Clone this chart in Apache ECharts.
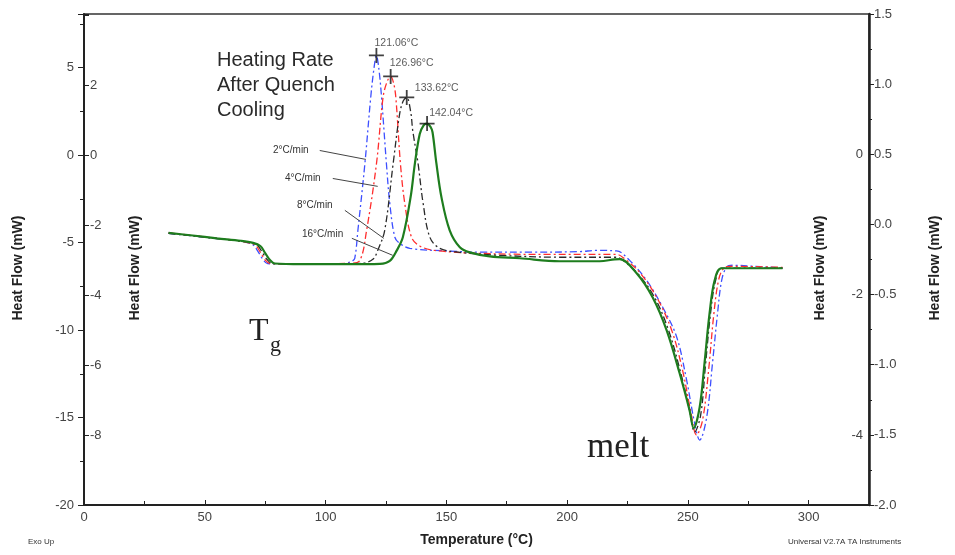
<!DOCTYPE html>
<html>
<head>
<meta charset="utf-8">
<script src="https://cdn.jsdelivr.net/npm/echarts@6/dist/echarts.min.js"></script>
<style>
html,body{margin:0;padding:0;background:#fff;}
#chart{width:955px;height:555px;}
</style>
</head>
<body>
<div id="chart"></div>
<script>
// ---- data (temperature °C, heat flow mW on the outer left scale) ----
var rate2 = [[35,-4.47],[45,-4.62],[55,-4.77],[64,-4.9],[68,-5.02],[70,-5.13],[72,-5.5],[74,-5.95],[76,-6.2],[80,-6.22],[90,-6.22],[100,-6.21],[108,-6.19],[110.9,-6.07],[112.1,-5.9],[113.4,-4.30],[116.3,-0.48],[118.7,3.29],[120,4.9],[121.06,5.69],[122.1,4.9],[123.2,3.29],[125.2,-0.48],[126.6,-2.76],[128.7,-4.70],[130.7,-5.05],[134.9,-5.33],[150.2,-5.48],[163.8,-5.55],[185,-5.55],[205.2,-5.52],[212.2,-5.45],[220.5,-5.48],[225.9,-6.02],[232.9,-7.16],[239.6,-8.70],[245.4,-10.41],[249.5,-12.87],[252.8,-15.32],[254.9,-16.29],[257.8,-14.98],[260.2,-11.90],[262.3,-9.04],[264.0,-7.16],[266.0,-6.42],[268.5,-6.30],[280,-6.38],[289.2,-6.45]];
var rate4 = [[35,-4.45],[45,-4.6],[55,-4.76],[64,-4.9],[69,-5.04],[71,-5.15],[73,-5.55],[75,-6.0],[77,-6.2],[85,-6.22],[100,-6.21],[110,-6.19],[114.2,-6.02],[117,-4.30],[121.1,-0.48],[123.8,3.29],[125.5,4.2],[126.96,4.49],[128.2,4.1],[129.1,3.29],[131.0,-0.48],[132.8,-2.76],[135.6,-4.70],[139,-5.20],[145.2,-5.45],[163.8,-5.62],[192.8,-5.68],[220.5,-5.68],[224,-5.95],[230,-6.70],[237.1,-8.13],[243.3,-10.01],[247.8,-12.29],[251.1,-14.58],[253.6,-16.0],[256.1,-15.15],[258.6,-12.29],[260.7,-9.16],[262.7,-7.16],[264.8,-6.47],[267.3,-6.36],[289.2,-6.42]];
var rate8 = [[35,-4.47],[45,-4.62],[55,-4.77],[65,-4.92],[70,-5.05],[72,-5.18],[74,-5.6],[76,-6.0],[78,-6.2],[90,-6.22],[105,-6.21],[115,-6.19],[119.6,-5.96],[121.6,-5.45],[124.5,-4.30],[128.0,-0.48],[130.7,2.37],[132.2,3.1],[133.62,3.29],[135.3,2.43],[136.1,1.40],[138.3,-0.48],[140.4,-2.76],[143.2,-4.70],[147.3,-5.33],[155.6,-5.56],[172.1,-5.73],[196.9,-5.84],[220.5,-5.84],[222.6,-5.96],[229.2,-6.76],[236.2,-8.13],[242,-10.01],[247,-12.41],[250.7,-14.58],[252.8,-15.83],[255.3,-14.86],[257.3,-12.01],[259.4,-9.04],[261.5,-7.16],[264,-6.47],[289.2,-6.47]];
var rate16 = [[35,-4.45],[45,-4.6],[55,-4.76],[65,-4.9],[70,-5.02],[73,-5.2],[75,-5.6],[77,-6.0],[79,-6.2],[90,-6.24],[110,-6.24],[122.5,-6.22],[126.6,-6.05],[129.5,-5.45],[132,-4.70],[135.2,-2.42],[137,-0.48],[139,1.20],[140.6,1.7],[142.04,1.80],[143.5,1.6],[144.3,1.30],[145.9,-0.48],[148,-2.42],[151.4,-4.30],[155.6,-5.27],[159.7,-5.56],[168,-5.79],[180.4,-5.9],[196.9,-6.07],[213.5,-6.07],[219.7,-5.96],[221.8,-5.95],[228.8,-6.76],[235.4,-8.13],[241.2,-10.01],[246.6,-12.47],[250.7,-14.58],[252.4,-15.61],[254.9,-14.41],[256.9,-11.90],[259,-9.04],[261.1,-7.16],[264,-6.47],[289.2,-6.47]];
var peakTemps = [121.06, 126.96, 133.62, 142.04];
var peakFlows = [5.69, 4.49, 3.29, 1.80];
var peakLabels = ['121.06°C', '126.96°C', '133.62°C', '142.04°C'];
var rateNames = ['2°C/min', '4°C/min', '8°C/min', '16°C/min'];
// arrows: [from, to] in data units
var arrows = [[[97.6,0.26],[116.7,-0.25]], [[103.0,-1.34],[121.6,-1.79]], [[108.0,-3.16],[124.1,-4.76]], [[110.9,-4.76],[127.8,-5.73]]];
var xTicks = [0, 50, 100, 150, 200, 250, 300];

var chart = echarts.init(document.getElementById('chart'));
var labelFont = 'Liberation Sans, Arial, sans-serif';
var axisCol = '#222';
var lblCol = '#444';
var plus = 'path://M4.4,0 h1.2 v4.4 h4.4 v1.2 h-4.4 v4.4 h-1.2 v-4.4 h-4.4 v-1.2 h4.4 z';
var offs = [[20,-12],[21,-13],[30,-9],[24,-10]];

var peakData = peakTemps.map(function(t, i){
  return {value:[t, peakFlows[i]], label:{show:true, formatter:peakLabels[i], position:'inside', offset:offs[i], color:'#333', fontSize:10.5, fontFamily:labelFont}};
});

var dashDot = [7,3,2,3];
function lineSeries(name, data, color, width, type) {
  return {
    type:'line', name:name, data:data, xAxisIndex:0, yAxisIndex:0,
    showSymbol:false, smooth:0.35,
    lineStyle:{color:color, width:width, type:type},
    z: 3
  };
}

var option = {
  animation:false,
  backgroundColor:'#fff',
  grid:{left:84, right:86, top:14, bottom:50, show:true, borderColor:'#333', borderWidth:1.5, outerBoundsMode:'none', containLabel:false},
  xAxis:{
    type:'value', min:0, max:325, interval:50,
    axisLine:{show:true, onZero:false, lineStyle:{color:axisCol, width:2}},
    axisTick:{show:true, inside:true, length:5, lineStyle:{color:axisCol}},
    minorTick:{show:true, splitNumber:2, length:4, lineStyle:{color:axisCol}},
    splitLine:{show:false},
    axisLabel:{color:lblCol, fontSize:13, fontFamily:labelFont, margin:6, showMaxLabel:false,
      formatter:function(v){ return xTicks.indexOf(v) >= 0 ? String(v) : ''; }},
    name:'Temperature (°C)', nameLocation:'middle', nameGap:28,
    nameTextStyle:{color:'#222', fontSize:14, fontWeight:'bold', fontFamily:labelFont}
  },
  yAxis:[
    { // outer left
      type:'value', position:'left', min:-20, max:8.06, interval:5,
      axisLine:{show:true, onZero:false, lineStyle:{color:axisCol, width:2}},
      axisTick:{show:true, length:6, lineStyle:{color:axisCol}},
      minorTick:{show:true, splitNumber:2, length:4, lineStyle:{color:axisCol}},
      splitLine:{show:false},
      axisLabel:{color:lblCol, fontSize:13, fontFamily:labelFont, margin:10,
        formatter:function(v){ return (Math.abs(v % 5) < 1e-6) ? String(v) : ''; }}
    },
    { // inner left
      type:'value', position:'left', min:-10, max:4.03, interval:2,
      axisLine:{show:false},
      axisTick:{show:true, inside:true, length:5, lineStyle:{color:axisCol}},
      splitLine:{show:false},
      axisLabel:{inside:true, color:lblCol, fontSize:13, fontFamily:labelFont, margin:6,
        formatter:function(v){ return (v > 3 || v < -9) ? '' : String(v); }}
    },
    { // outer right
      type:'value', position:'right', min:-2, max:1.5, interval:0.5,
      axisLine:{show:true, onZero:false, lineStyle:{color:axisCol, width:2.5}},
      axisTick:{show:true, length:5, lineStyle:{color:axisCol}},
      minorTick:{show:true, splitNumber:2, length:3, lineStyle:{color:axisCol}},
      splitLine:{show:false},
      axisLabel:{color:lblCol, fontSize:13, fontFamily:labelFont, margin:5,
        formatter:function(v){ return v.toFixed(1); }}
    },
    { // inner right
      type:'value', position:'right', min:-5, max:2.01, interval:1,
      axisLine:{show:false},
      axisTick:{show:false},
      splitLine:{show:false},
      axisLabel:{inside:true, color:lblCol, fontSize:13, fontFamily:labelFont, margin:6,
        formatter:function(v){ return (v % 2 === 0 && v <= 0 && v > -5) ? String(v) : ''; }}
    }
  ],
  series:[
    lineSeries('2°C/min', rate2, '#3d4fff', 1.3, dashDot),
    lineSeries('4°C/min', rate4, '#ff2d2d', 1.3, dashDot),
    lineSeries('8°C/min', rate8, '#2a2a2a', 1.3, dashDot),
    lineSeries('16°C/min', rate16, '#1e7d1e', 2.2, 'solid'),
    {
      type:'scatter', name:'peaks', data:peakData, xAxisIndex:0, yAxisIndex:0,
      symbol:plus, symbolSize:15, itemStyle:{color:'#111'}, z:5, silent:true
    },
    {
      type:'line', name:'arrows', data:[], xAxisIndex:0, yAxisIndex:0, silent:true,
      markLine:{
        silent:true, animation:false, symbol:['none','arrow'], symbolSize:[0,8],
        label:{show:false},
        lineStyle:{color:'#444', width:1, type:'solid'},
        emphasis:{disabled:true},
        data: arrows.map(function(a){ return [{coord:a[0]},{coord:a[1]}]; })
      }
    }
  ],
  graphic:[
    {type:'text', left:217, top:48, style:{text:'Heating Rate\nAfter Quench\nCooling', font:'20px ' + labelFont, fill:'#2a2a2a', lineHeight:25}},
    {type:'text', left:273, top:145, style:{text:rateNames[0], font:'10px ' + labelFont, fill:'#333'}},
    {type:'text', left:285, top:173, style:{text:rateNames[1], font:'10px ' + labelFont, fill:'#333'}},
    {type:'text', left:297, top:200, style:{text:rateNames[2], font:'10px ' + labelFont, fill:'#333'}},
    {type:'text', left:302, top:229, style:{text:rateNames[3], font:'10px ' + labelFont, fill:'#333'}},
    {type:'text', left:249, top:316, style:{text:'T', font:'32px Liberation Serif, Times New Roman, serif', fill:'#222'}},
    {type:'text', left:270, top:334, style:{text:'g', font:'22px Liberation Serif, Times New Roman, serif', fill:'#222'}},
    {type:'text', left:587, top:430, style:{text:'melt', font:'35px Liberation Serif, Times New Roman, serif', fill:'#222'}},
    {type:'text', x:18, y:268, rotation:Math.PI/2, style:{text:'Heat Flow (mW)', font:'bold 14px ' + labelFont, fill:'#222', align:'center', verticalAlign:'middle'}},
    {type:'text', x:135, y:268, rotation:Math.PI/2, style:{text:'Heat Flow (mW)', font:'bold 14px ' + labelFont, fill:'#222', align:'center', verticalAlign:'middle'}},
    {type:'text', x:820, y:268, rotation:Math.PI/2, style:{text:'Heat Flow (mW)', font:'bold 14px ' + labelFont, fill:'#222', align:'center', verticalAlign:'middle'}},
    {type:'text', x:935, y:268, rotation:Math.PI/2, style:{text:'Heat Flow (mW)', font:'bold 14px ' + labelFont, fill:'#222', align:'center', verticalAlign:'middle'}},
    {type:'text', left:28, top:538, style:{text:'Exo Up', font:'8px ' + labelFont, fill:'#333'}},
    {type:'text', left:788, top:538, style:{text:'Universal V2.7A TA Instruments', font:'8px ' + labelFont, fill:'#333'}}
  ]
};
chart.setOption(option);
</script>
</body>
</html>
